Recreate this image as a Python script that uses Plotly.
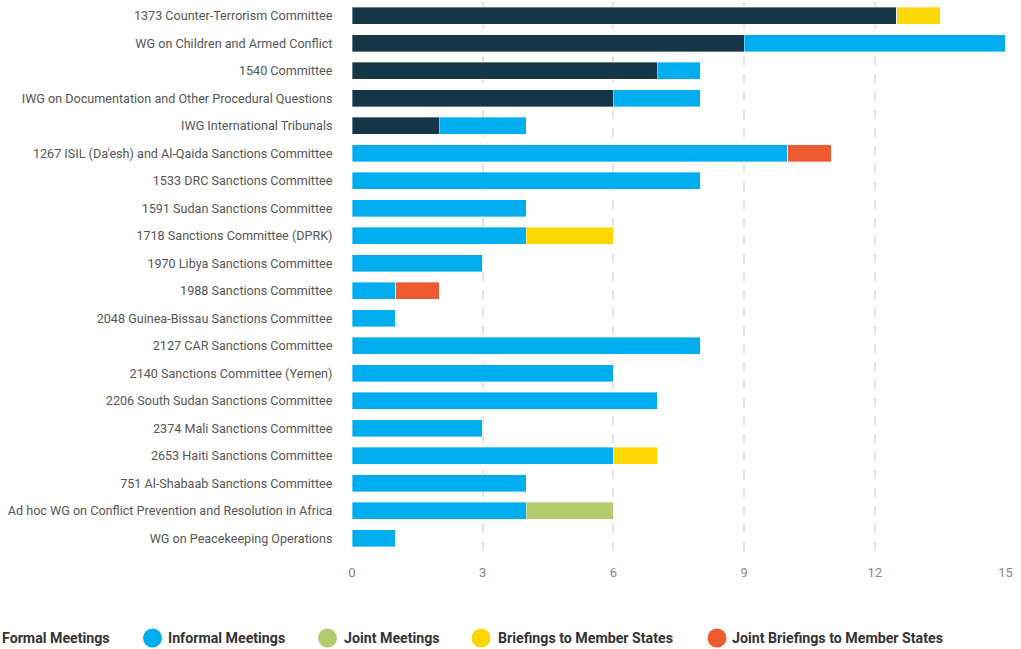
import plotly.graph_objects as go

categories = [
    "1373 Counter-Terrorism Committee",
    "WG on Children and Armed Conflict",
    "1540 Committee",
    "IWG on Documentation and Other Procedural Questions",
    "IWG International Tribunals",
    "1267 ISIL (Da'esh) and Al-Qaida Sanctions Committee",
    "1533 DRC Sanctions Committee",
    "1591 Sudan Sanctions Committee",
    "1718 Sanctions Committee (DPRK)",
    "1970 Libya Sanctions Committee",
    "1988 Sanctions Committee",
    "2048 Guinea-Bissau Sanctions Committee",
    "2127 CAR Sanctions Committee",
    "2140 Sanctions Committee (Yemen)",
    "2206 South Sudan Sanctions Committee",
    "2374 Mali Sanctions Committee",
    "2653 Haiti Sanctions Committee",
    "751 Al-Shabaab Sanctions Committee",
    "Ad hoc WG on Conflict Prevention and Resolution in Africa",
    "WG on Peacekeeping Operations",
]

formal_meetings = [12.5, 9, 7, 6, 2, 0, 0, 0, 0, 0, 0, 0, 0, 0, 0, 0, 0, 0, 0, 0]
informal_meetings = [0, 6, 1, 2, 2, 10, 8, 4, 4, 3, 1, 1, 8, 6, 7, 3, 6, 4, 4, 1]
joint_meetings = [0, 0, 0, 0, 0, 0, 0, 0, 0, 0, 0, 0, 0, 0, 0, 0, 0, 0, 2, 0]
briefings_member_states = [1, 0, 0, 0, 0, 0, 0, 0, 2, 0, 0, 0, 0, 0, 0, 0, 1, 0, 0, 0]
joint_briefings_member_states = [0, 0, 0, 0, 0, 1, 0, 0, 0, 0, 1, 0, 0, 0, 0, 0, 0, 0, 0, 0]

x_ticks = [0, 3, 6, 9, 12, 15]

series = [
    ("Formal Meetings", formal_meetings, "#153646"),
    ("Informal Meetings", informal_meetings, "#00AEEF"),
    ("Joint Meetings", joint_meetings, "#B2CB6D"),
    ("Briefings to Member States", briefings_member_states, "#FDD600"),
    ("Joint Briefings to Member States", joint_briefings_member_states, "#EE5A2F"),
]

fig = go.Figure()
for name, vals, color in series:
    fig.add_trace(go.Bar(
        y=categories, x=vals, name=name, orientation="h",
        marker=dict(color=color, line=dict(width=0.6, color="rgba(255,255,255,0.6)")),
        showlegend=False,
    ))

W, H = 1021, 649
ML, MR, MT, MB = 352, 15, 2, 97
PW, PH = W - ML - MR, H - MT - MB

def px_x(px):
    return (px - ML) / PW

def px_y(py):
    return (H - MB - py) / PH

# custom legend (circle + label), first circle falls outside the page like the reference
legend_pos = [(-25, 2), (152.5, 168), (327.5, 344), (481, 498), (717, 732)]
legend_y = 638
shapes = []
annotations = []
for (name, vals, color), (cx, tx) in zip(series, legend_pos):
    shapes.append(dict(
        type="circle", xref="paper", yref="paper",
        xsizemode="pixel", ysizemode="pixel",
        xanchor=px_x(cx), yanchor=px_y(legend_y),
        x0=-9.5, x1=9.5, y0=-9.5, y1=9.5,
        fillcolor=color, line=dict(width=0),
    ))
    annotations.append(dict(
        x=px_x(tx - 2), y=px_y(legend_y), xref="paper", yref="paper",
        xanchor="left", yanchor="middle", showarrow=False,
        text="<b>" + name + "</b>",
        font=dict(family="Roboto", size=14.2, color="#333333"),
    ))

fig.update_layout(
    barmode="stack",
    bargap=0.38,
    width=W, height=H,
    margin=dict(l=ML, r=MR, t=MT, b=MB, autoexpand=False),
    plot_bgcolor="white", paper_bgcolor="white",
    font=dict(family="Roboto", color="#555555"),
    shapes=shapes,
    annotations=annotations,
    xaxis=dict(
        range=[0, 15.01], tickvals=x_ticks, ticktext=[str(v) for v in x_ticks],
        showgrid=True, gridcolor="#e3e3e3", griddash="dash", gridwidth=1.5,
        zeroline=False, showline=False,
        ticks="outside", ticklen=8, tickcolor="rgba(0,0,0,0)",
        tickfont=dict(family="Roboto", size=13, color="#888888"),
    ),
    yaxis=dict(
        autorange="reversed", showgrid=False, zeroline=False, showline=False,
        ticks="outside", ticklen=16, tickcolor="rgba(0,0,0,0)",
        tickfont=dict(family="Roboto", size=12.6, color="#555555"),
    ),
)

fig.write_html(
    "out.html",
    config={"displayModeBar": False},
    post_script="document.body.style.margin='0';document.body.style.overflow='hidden';",
)
